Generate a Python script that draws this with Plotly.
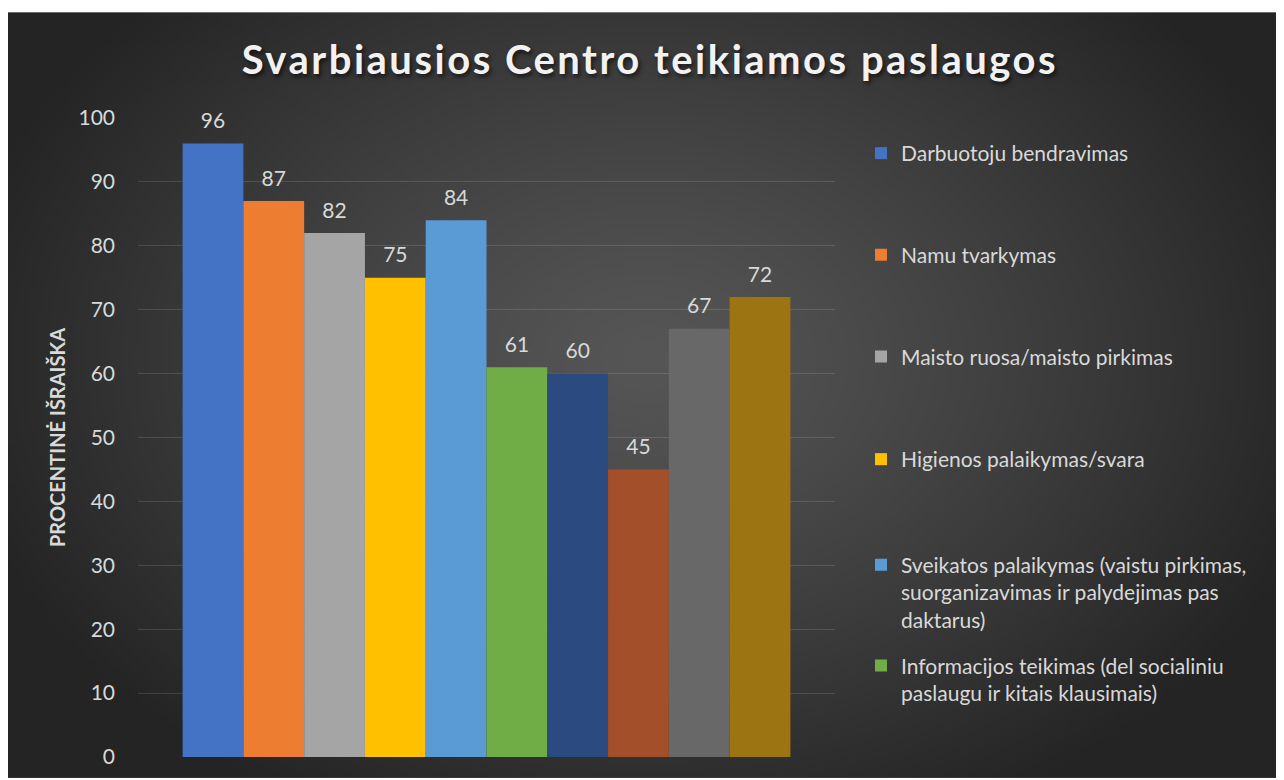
import base64
import struct
import zlib

import numpy as np
import plotly.graph_objects as go

# --- data -------------------------------------------------------------
services = [
    "Darbuotoju bendravimas",
    "Namu tvarkymas",
    "Maisto ruosa/maisto pirkimas",
    "Higienos palaikymas/svara",
    "Sveikatos palaikymas (vaistu pirkimas,<br>suorganizavimas ir palydejimas pas<br>daktarus)",
    "Informacijos teikimas (del socialiniu<br>paslaugu ir kitais klausimais)",
    "Paslauga 7",
    "Paslauga 8",
    "Paslauga 9",
    "Paslauga 10",
]
percent = [96, 87, 82, 75, 84, 61, 60, 45, 67, 72]
colors = ["#4472C4", "#ED7D31", "#A5A5A5", "#FFC000", "#5B9BD5",
          "#70AD47", "#2B4A7F", "#A3502A", "#686868", "#9C7512"]
# only the first six entries fit in the visible legend (page px of first line)
legend_center_px = [153, 255, 357, 460, 566, 667]

OFF = 8                       # body margin of the page
W, H = 1276, 772
L, R, T, B = 130, 827, 110, 751   # plot area in figure pixels
PW, PH = R - L, B - T


def px_x(p):
    return (p - L) / PW


def px_y(p):
    return (B - p) / PH


def radial_png(w=320, h=192):
    # dark radial background, lighter in the middle
    yy, xx = np.mgrid[0:h, 0:w]
    dx = (xx - w * 0.5) / (w * 0.5)
    dy = (yy - h * 0.45) / (h * 0.6)
    r = np.clip(np.sqrt(dx ** 2 + dy ** 2), 0, 1.1)
    v = np.clip(86 - 44 * r ** 1.2, 0, 255).astype(np.uint8)
    raw = b"".join(b"\x00" + v[i].tobytes() for i in range(h))

    def chunk(tag, data):
        c = struct.pack(">I", len(data)) + tag + data
        return c + struct.pack(">I", zlib.crc32(tag + data) & 0xFFFFFFFF)

    png = b"\x89PNG\r\n\x1a\n"
    png += chunk(b"IHDR", struct.pack(">IIBBBBB", w, h, 8, 0, 0, 0, 0))
    png += chunk(b"IDAT", zlib.compress(raw, 9))
    png += chunk(b"IEND", b"")
    return "data:image/png;base64," + base64.b64encode(png).decode()


FONT = "Lato, 'Open Sans', sans-serif"
TXT = "#D9D9D9"

fig = go.Figure()
for i, (name, val, col) in enumerate(zip(services, percent, colors)):
    leg = "legend" if i == 0 else f"legend{i + 1}"
    fig.add_trace(go.Bar(
        x=[""], y=[val], name=name,
        marker=dict(color=col, line=dict(width=0)),
        # small blank second line lifts the label off the bar
        text=[f"<span style='font-size:21px'>{val}</span><br> "],
        textposition="outside", cliponaxis=False, constraintext="none",
        textfont=dict(size=8, color=TXT, family=FONT),
        showlegend=i < len(legend_center_px),
        legend=leg if i < len(legend_center_px) else None,
    ))

layout_legends = {}
for i, cy in enumerate(legend_center_px):
    key = "legend" if i == 0 else f"legend{i + 1}"
    layout_legends[key] = dict(
        x=px_x(853), y=px_y(cy - 20 - OFF), xanchor="left", yanchor="top",
        bgcolor="rgba(0,0,0,0)", valign="top", itemwidth=30,
        font=dict(size=21, color=TXT, family=FONT),
    )

fig.update_layout(
    width=W, height=H,
    margin=dict(l=L, r=W - R, t=T, b=H - B),
    paper_bgcolor="white",
    plot_bgcolor="rgba(0,0,0,0)",
    barmode="group", bargap=0.128, bargroupgap=0,
    title=dict(
        text="<b><span style='letter-spacing:2.5px'>"
             "Svarbiausios Centro teikiamos paslaugos</span></b>",
        x=(650 - OFF) / W, y=1 - (60 - OFF) / H,
        xanchor="center", yanchor="middle",
        font=dict(size=40, color="#F2F2F2", family=FONT,
                  shadow="2px 3px 4px rgba(0,0,0,0.6)"),
    ),
    xaxis=dict(showticklabels=False, showgrid=False, zeroline=False,
               showline=False),
    yaxis=dict(
        range=[0, 100], dtick=10, showgrid=True,
        gridcolor="rgba(255,255,255,0.13)", gridwidth=1,
        zeroline=False, showline=False, ticks="",
        ticklabelstandoff=22,
        tickfont=dict(size=21, color=TXT, family=FONT),
        title=dict(text="<b>PROCENTINĖ IŠRAIŠKA</b>", standoff=7,
                   font=dict(size=20, color=TXT, family=FONT)),
    ),
    images=[dict(
        source=radial_png(), xref="paper", yref="paper",
        x=px_x(0), y=px_y(4), sizex=W / PW, sizey=(H - 4) / PH,
        xanchor="left", yanchor="top", sizing="stretch", layer="below",
    )],
    **layout_legends,
)

fig.write_html("out.html")
